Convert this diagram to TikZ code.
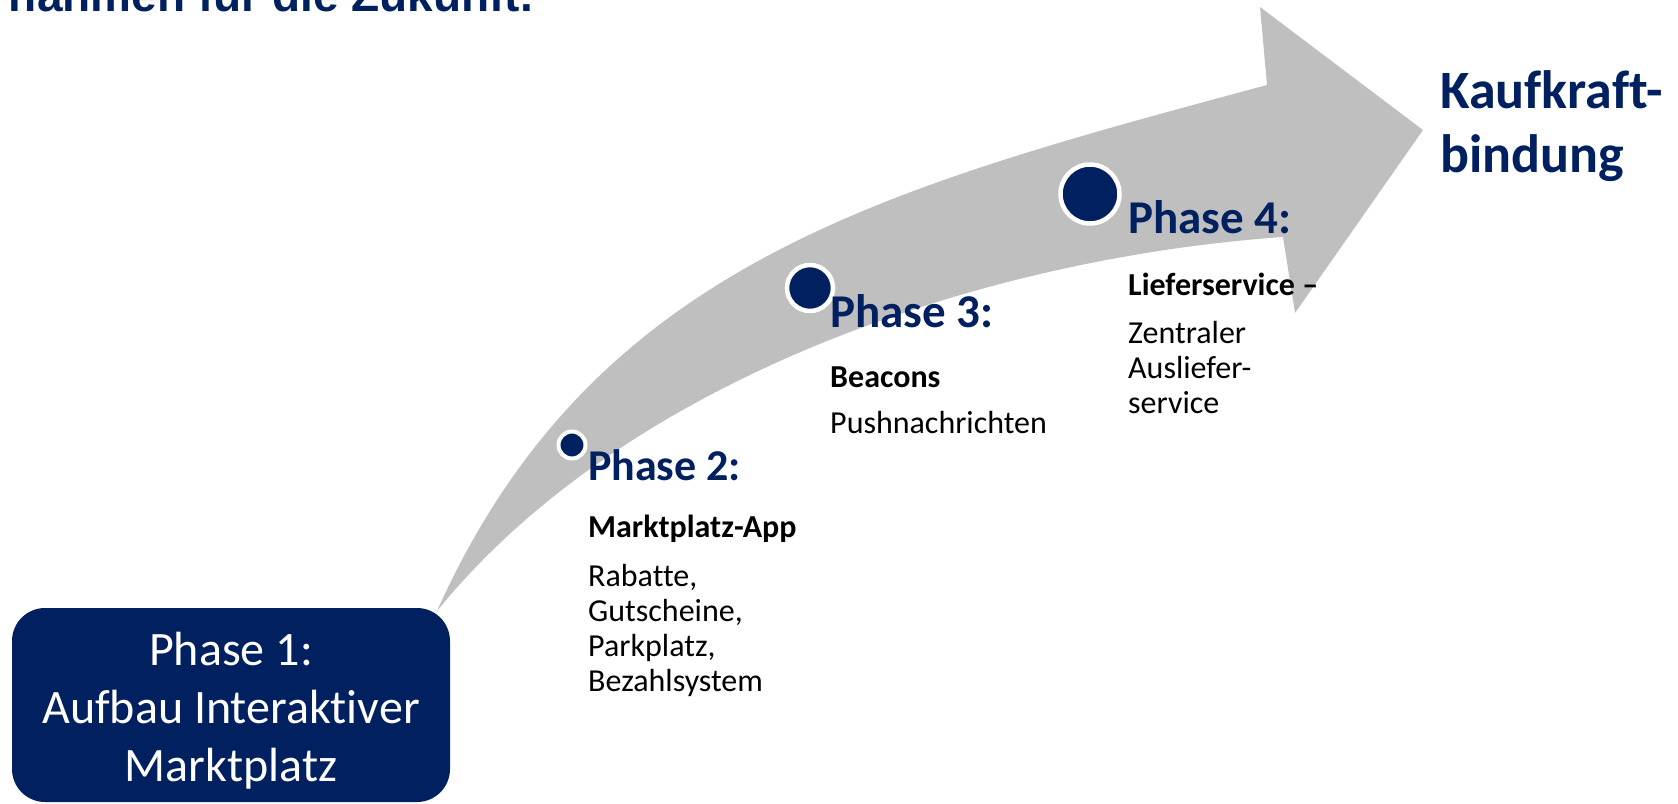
\documentclass[tikz,border=0pt]{standalone}
\usepackage{fontspec}
\setmainfont{Carlito}[Ligatures=CommonOff]
\newfontfamily\titlefont{Liberation Sans}
\usepackage{xcolor}
\usepackage{tikz}
\usetikzlibrary{positioning}

\definecolor{navy}{HTML}{002060}
\definecolor{arrowgray}{HTML}{BFBFBF}

\begin{document}
\begin{tikzpicture}[x=1pt, y=-1pt,
  phasehead/.style={anchor=base west, inner sep=0pt, text=navy, font=\fontsize{47}{54}\selectfont\bfseries},
  phasesub/.style={anchor=base west, inner sep=0pt, font=\fontsize{32}{35}\selectfont\bfseries},
  phasetext/.style={anchor=base west, inner sep=0pt, align=left, font=\fontsize{32}{34.7}\selectfont},
  milestone/.style={circle, fill=navy, draw=white, line width=4.5pt, inner sep=0pt}]
\useasboundingbox (0,0) rectangle (1678,803);

% title line, cut off at the top
\node[anchor=base east, inner sep=0pt, text=navy, font=\titlefont\fontsize{46}{50}\selectfont\bfseries] (title) at (533,12) {nahmen für die Zukunft.};

% big curved arrow
\fill[arrowgray] (437,611) .. controls (593,264) and (881,189) .. (1267,85)
  -- (1260,7) -- (1423,130) -- (1295,313) -- (1283,237)
  .. controls (983,258) and (626,378) .. (437,611) -- cycle;

% phase 1
\node[fill=navy, rounded corners=33, minimum width=438, minimum height=194, inner sep=0pt] (phaseone) at (231,705) {};
\node[text=white, align=center, font=\fontsize{48}{58}\selectfont] (phaseonetext) at (231,711) {Phase 1:\\Aufbau Interaktiver\\Marktplatz};

% milestones
\node[milestone, line width=4pt, minimum size=27] (m2) at (572,445) {};
\node[milestone, minimum size=46] (m3) at (810,288) {};
\node[milestone, minimum size=59] (m4) at (1090,194) {};

% phase 2
\node[phasehead, font=\fontsize{44}{50}\selectfont\bfseries] (p2head) at (588,480) {Phase 2:};
\node[phasesub] (p2sub) at (588,537) {Marktplatz-App};
\node[phasetext] (p2text) at (588,691) {Rabatte,\\Gutscheine,\\Parkplatz,\\Bezahlsystem};

% phase 3
\node[phasehead] (p3head) at (830,327) {Phase 3:};
\node[phasesub] (p3sub) at (830,387) {Beacons};
\node[phasetext] (p3text) at (830,433) {Pushnachrichten};

% phase 4
\node[phasehead] (p4head) at (1128,233) {Phase 4:};
\node[phasesub] (p4sub) at (1128,295) {Lieferservice --};
\node[phasetext] (p4text) at (1128,413) {Zentraler\\Ausliefer-\\service};

% goal
\node[phasehead, align=left, font=\fontsize{54}{64}\selectfont\bfseries] (goal) at (1440,172) {Kaufkraft-\\bindung};
\end{tikzpicture}
\end{document}
